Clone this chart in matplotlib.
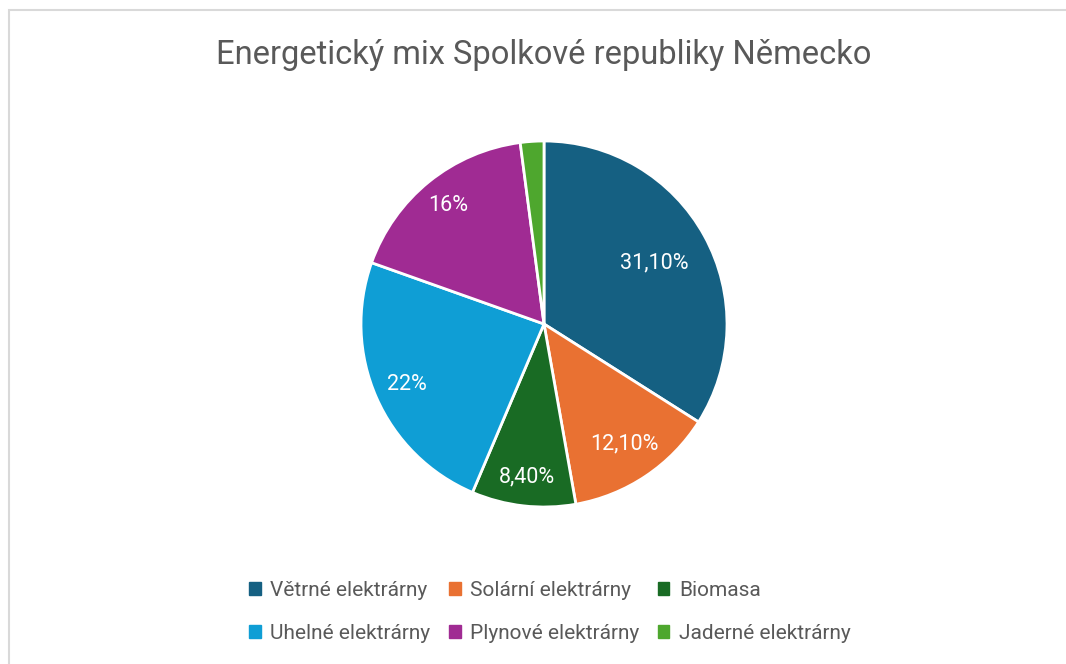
import matplotlib.pyplot as plt
from matplotlib.patches import Rectangle
import numpy as np

plt.rcParams['font.family'] = ['Roboto', 'DejaVu Sans']

categories = ['Větrné elektrárny', 'Solární elektrárny', 'Biomasa',
              'Uhelné elektrárny', 'Plynové elektrárny', 'Jaderné elektrárny']
values = [31.1, 12.1, 8.4, 22, 16, 1.9]
labels = ['31,10%', '12,10%', '8,40%', '22%', '16%', '']
colors = ['#156082', '#E97132', '#196B24', '#0F9ED5', '#A02B93', '#4EA72E']
label_dist = [0.69, 0.79, 0.84, 0.82, 0.83, 0.8]

fig = plt.figure(figsize=(10.66, 6.64), dpi=100)

# light grey chart frame
fig.patches.append(Rectangle((9 / 1066, -0.1), 1.2, 1 - 10 / 664 + 0.1,
                             transform=fig.transFigure, fill=False,
                             edgecolor='#d9d9d9', linewidth=1.5))

ax = fig.add_axes([(544 - 183) / 1066, (664 - 324 - 183) / 664,
                   366 / 1066, 366 / 664])
wedges, _ = ax.pie(values, colors=colors, startangle=90, counterclock=False,
                   radius=1, wedgeprops=dict(edgecolor='white', linewidth=2))
ax.set_xlim(-1, 1)
ax.set_ylim(-1, 1)
ax.set_aspect('equal')

for w, lab, d in zip(wedges, labels, label_dist):
    ang = np.deg2rad((w.theta1 + w.theta2) / 2)
    ax.text(d * np.cos(ang), d * np.sin(ang), lab, color='white',
            fontsize=15.5, ha='center', va='center')

fig.text(544 / 1066, 1 - 55 / 664, 'Energetický mix Spolkové republiky Německo',
         ha='center', va='center', fontsize=23.5, color='#595959')

order = [0, 3, 1, 4, 2, 5]
handles = [Rectangle((0, 0), 1, 1, color=colors[i]) for i in order]
leg = fig.legend(handles, [categories[i] for i in order], ncol=3,
                 loc='center', bbox_to_anchor=(550 / 1066, 1 - 612 / 664),
                 frameon=False, fontsize=15, handlelength=0.55, handleheight=0.55,
                 handletextpad=0.45, columnspacing=0.9, labelspacing=1.15)
for t in leg.get_texts():
    t.set_color('#595959')

fig.savefig('out.png', dpi=100, facecolor='white')
